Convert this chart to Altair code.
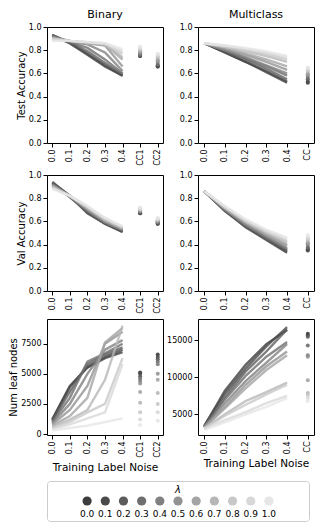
import altair as alt
import pandas as pd

LAMS = ["0.0", "0.1", "0.2", "0.3", "0.4", "0.5", "0.6", "0.7", "0.8", "0.9", "1.0"]
NOISE = ["0.0", "0.1", "0.2", "0.3", "0.4"]
GREYS = ["#3c3c3c", "#4a4a4a", "#5c5c5c", "#6e6e6e", "#808080", "#929292",
         "#a4a4a4", "#b6b6b6", "#c8c8c8", "#d8d8d8", "#e6e6e6"]

# ---- Binary: Test accuracy (rows = lambda, cols = noise 0.0..0.4)
bin_test = [
    [0.93, 0.86, 0.76, 0.66, 0.58],
    [0.93, 0.86, 0.77, 0.67, 0.58],
    [0.93, 0.87, 0.79, 0.69, 0.59],
    [0.92, 0.87, 0.82, 0.72, 0.60],
    [0.92, 0.87, 0.85, 0.78, 0.62],
    [0.91, 0.88, 0.86, 0.84, 0.66],
    [0.91, 0.88, 0.86, 0.85, 0.72],
    [0.90, 0.88, 0.86, 0.85, 0.74],
    [0.90, 0.88, 0.87, 0.85, 0.77],
    [0.89, 0.88, 0.87, 0.86, 0.79],
    [0.88, 0.88, 0.87, 0.86, 0.81],
]
bin_test_cc1 = [0.75, 0.75, 0.76, 0.76, 0.77, 0.78, 0.79, 0.80, 0.81, 0.82, 0.83]
bin_test_cc2 = [0.66, 0.66, 0.67, 0.68, 0.70, 0.71, 0.72, 0.74, 0.75, 0.76, 0.77]

# ---- Multiclass: Test accuracy
mc_test = [
    [0.86, 0.78, 0.70, 0.61, 0.52],
    [0.86, 0.78, 0.70, 0.62, 0.53],
    [0.86, 0.79, 0.72, 0.64, 0.55],
    [0.86, 0.80, 0.73, 0.66, 0.58],
    [0.86, 0.80, 0.74, 0.67, 0.60],
    [0.86, 0.81, 0.76, 0.70, 0.63],
    [0.86, 0.82, 0.77, 0.72, 0.66],
    [0.86, 0.83, 0.79, 0.75, 0.70],
    [0.86, 0.83, 0.80, 0.77, 0.72],
    [0.86, 0.84, 0.81, 0.78, 0.74],
    [0.86, 0.84, 0.82, 0.79, 0.75],
]
mc_test_cc = [0.52, 0.53, 0.55, 0.56, 0.58, 0.59, 0.60, 0.62, 0.63, 0.64, 0.65]

# ---- Binary: Val accuracy
bin_val = [
    [0.94, 0.82, 0.67, 0.58, 0.51],
    [0.93, 0.82, 0.68, 0.58, 0.51],
    [0.93, 0.81, 0.68, 0.58, 0.52],
    [0.92, 0.81, 0.69, 0.59, 0.52],
    [0.92, 0.82, 0.70, 0.59, 0.53],
    [0.91, 0.82, 0.70, 0.60, 0.53],
    [0.91, 0.82, 0.71, 0.61, 0.54],
    [0.90, 0.82, 0.72, 0.61, 0.54],
    [0.89, 0.82, 0.72, 0.62, 0.55],
    [0.89, 0.82, 0.73, 0.63, 0.55],
    [0.88, 0.82, 0.73, 0.63, 0.56],
]
bin_val_cc1 = [0.67, 0.67, 0.68, 0.68, 0.69, 0.69, 0.70, 0.70, 0.71, 0.71, 0.72]
bin_val_cc2 = [0.58, 0.58, 0.59, 0.59, 0.60, 0.60, 0.61, 0.61, 0.62, 0.62, 0.63]

# ---- Multiclass: Val accuracy
mc_val = [
    [0.86, 0.69, 0.55, 0.44, 0.33],
    [0.86, 0.69, 0.56, 0.45, 0.34],
    [0.86, 0.70, 0.56, 0.45, 0.35],
    [0.86, 0.70, 0.57, 0.46, 0.36],
    [0.86, 0.70, 0.57, 0.47, 0.37],
    [0.86, 0.71, 0.58, 0.48, 0.39],
    [0.86, 0.71, 0.59, 0.49, 0.40],
    [0.86, 0.72, 0.60, 0.50, 0.42],
    [0.86, 0.72, 0.60, 0.51, 0.43],
    [0.86, 0.73, 0.61, 0.52, 0.45],
    [0.86, 0.73, 0.62, 0.53, 0.46],
]
mc_val_cc = [0.35, 0.36, 0.37, 0.38, 0.40, 0.41, 0.42, 0.44, 0.45, 0.46, 0.48]

# ---- Binary: Num leaf nodes
bin_leaf = [
    [1200, 4000, 5500, 6300, 6800],
    [1200, 3900, 5600, 6400, 7000],
    [1100, 3500, 5800, 6600, 7200],
    [1000, 3000, 6000, 6700, 7500],
    [900, 2500, 5000, 7000, 7800],
    [800, 2000, 4000, 7500, 8500],
    [700, 1500, 3000, 7600, 8800],
    [600, 1200, 2000, 4500, 9000],
    [500, 1000, 1800, 2500, 6300],
    [400, 800, 1300, 1800, 5800],
    [300, 500, 700, 1000, 1300],
]
bin_leaf_cc1 = [5100, 5000, 4800, 4600, 4400, 4200, 3500, 2600, 1800, 1200, 750]
bin_leaf_cc2 = [6600, 6400, 6200, 6000, 5800, 5000, 4500, 3400, 2500, 1800, 1100]

# ---- Multiclass: Num leaf nodes
mc_leaf = [
    [3400, 8200, 11700, 14500, 16400],
    [3400, 7800, 11200, 14200, 16800],
    [3300, 7300, 10800, 13500, 16500],
    [3300, 7000, 10200, 12800, 14800],
    [3300, 6500, 9500, 12000, 14500],
    [3200, 6000, 9000, 11500, 13500],
    [3200, 5800, 8500, 11000, 13000],
    [3100, 5000, 6800, 8000, 9300],
    [3100, 4800, 6300, 7700, 9000],
    [3000, 4200, 5300, 6500, 7500],
    [2900, 3900, 5000, 6000, 7200],
]
mc_leaf_cc = [15900, 15700, 15500, 14300, 13000, 12800, 9600, 7900, 7600, 7200, 6800]

FONT = "DejaVu Sans"
PW, PH = 116, 116


def panel(lines, ccs, cc_names, ydomain, yticks, yfmt, title, ytitle, xtitle):
    cats = NOISE + cc_names
    rows = []
    for li, lam in enumerate(LAMS):
        for ni, nz in enumerate(NOISE):
            rows.append({"lam": lam, "x": nz, "v": lines[li][ni], "k": "line"})
        for cname, cvals in zip(cc_names, ccs):
            rows.append({"lam": lam, "x": cname, "v": cvals[li], "k": "cc"})
    df = pd.DataFrame(rows)
    xenc = alt.X("x:N", sort=cats,
                 scale=alt.Scale(type="point", domain=cats, padding=0.3),
                 axis=alt.Axis(labelAngle=270, title=xtitle if xtitle else "",
                               titleFontSize=10.5, titleFontWeight="normal",
                               titlePadding=5))
    yaxis = alt.Axis(values=yticks, format=yfmt, title=ytitle if ytitle else "",
                     titleFontSize=10, titleFontWeight="normal", titlePadding=2)
    yenc = alt.Y("v:Q", scale=alt.Scale(domain=ydomain, nice=False, zero=False),
                 axis=yaxis)
    cenc = alt.Color("lam:O", scale=alt.Scale(domain=LAMS, range=GREYS), legend=None)
    base = alt.Chart(df)
    ln = base.transform_filter(alt.datum.k == "line").mark_line(
        strokeWidth=2.4, opacity=0.8, clip=True
    ).encode(x=xenc, y=yenc, color=cenc, detail="lam:O",
             order=alt.Order("x:N"))
    pt = base.transform_filter(alt.datum.k == "cc").mark_circle(
        size=16, opacity=0.9
    ).encode(x=xenc, y=yenc, color=cenc)
    ch = alt.layer(ln, pt).properties(width=PW, height=PH)
    if title:
        ch = ch.properties(title=alt.TitleParams(title, fontSize=11, fontWeight="normal",
                                                 font=FONT, offset=3))
    return ch


acc_ticks = [0.0, 0.2, 0.4, 0.6, 0.8, 1.0]
p1 = panel(bin_test, [bin_test_cc1, bin_test_cc2], ["CC1", "CC2"], [0, 1], acc_ticks, ".1f",
           "Binary", "Test Accuracy", None)
p2 = panel(mc_test, [mc_test_cc], ["CC"], [0, 1], acc_ticks, ".1f",
           "Multiclass", None, None)
p3 = panel(bin_val, [bin_val_cc1, bin_val_cc2], ["CC1", "CC2"], [0, 1], acc_ticks, ".1f",
           None, "Val Accuracy", None)
p4 = panel(mc_val, [mc_val_cc], ["CC"], [0, 1], acc_ticks, ".1f",
           None, None, None)
p5 = panel(bin_leaf, [bin_leaf_cc1, bin_leaf_cc2], ["CC1", "CC2"], [-80, 9550],
           [0, 2500, 5000, 7500], "d", None, "Num leaf nodes", "Training Label Noise")
p6 = panel(mc_leaf, [mc_leaf_cc], ["CC"], [2200, 17900], [5000, 10000, 15000], "d",
           None, None, "Training Label Noise")

grid = alt.concat(p1, p2, p3, p4, p5, p6, columns=2,
                  spacing=alt.RowColnumber(row=4, column=2))

# ---- manual legend: its view is the framed box
ldf = pd.DataFrame({"lam": LAMS})
lx = alt.X("lam:O", sort=LAMS, scale=alt.Scale(domain=LAMS, range=[31, 231]), axis=None)
dots = alt.Chart(ldf).mark_circle(size=85, opacity=1).encode(
    x=lx, y=alt.value(20),
    color=alt.Color("lam:O", scale=alt.Scale(domain=LAMS, range=GREYS), legend=None))
labs = alt.Chart(ldf).mark_text(fontSize=9, font=FONT, baseline="middle").encode(
    x=lx, y=alt.value(33), text="lam:N")
ltitle = alt.Chart(pd.DataFrame({"t": ["λ"]})).mark_text(
    fontSize=10, font=FONT, fontStyle="italic", baseline="middle"
).encode(x=alt.value(131), y=alt.value(9), text="t:N")
legend = alt.layer(dots, labs, ltitle).properties(
    width=262, height=40,
    view=alt.ViewBackground(stroke="#cccccc", strokeWidth=1, cornerRadius=3, fill="white"))

chart = alt.vconcat(grid, legend, spacing=6).properties(
    padding=0
).configure_view(stroke="black", strokeWidth=1).configure_axis(
    domain=False, grid=False, tickColor="black", tickSize=4, labelFontSize=8,
    labelColor="black", labelFont=FONT, titleFont=FONT, titleColor="black",
    labelPadding=2
)

chart.save("out.html", embed_options={"renderer": "svg", "actions": False})
